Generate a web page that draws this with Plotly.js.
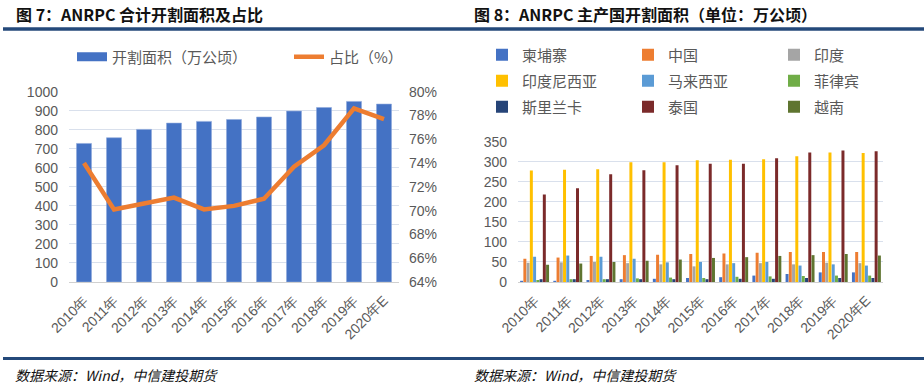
<!DOCTYPE html>
<html>
<head>
<meta charset="utf-8">
<script src="https://cdn.plot.ly/plotly-3.0.1.min.js"></script>
<style>html,body{margin:0;padding:0;background:#fff;}#chart{width:924px;height:387px;}</style>
</head>
<body>
<div id="chart"></div>
<script>
// ---- data ----
var years = ['2010年','2011年','2012年','2013年','2014年','2015年','2016年','2017年','2018年','2019年','2020年E'];
var totalArea = [728,758,802,835,844,854,867,898,917,949,935];
var sharePct = [74.0,70.1,70.6,71.1,70.1,70.4,71.0,73.7,75.5,78.6,77.7];

var countryNames = ['柬埔寨','中国','印度','印度尼西亚','马来西亚','菲律宾','斯里兰卡','泰国','越南'];
var cambodia    = [3,3,5,7,8,10,12,16,20,24,24];
var china       = [58,61,65,67,68,70,71,73,75,75,75];
var india       = [48,49,50,47,44,39,44,47,44,48,47];
var indonesia   = [278,280,281,299,299,304,305,306,314,323,322];
var malaysia    = [63,66,63,58,49,50,47,50,41,44,41];
var philippines = [5,7,7,9,11,10,13,14,15,16,16];
var sriLanka    = [7,7,7,7,7,7,8,8,10,10,10];
var thailand    = [218,234,269,279,291,295,295,309,323,328,326];
var vietnam     = [43,46,50,53,56,60,62,65,67,70,66];
var countrySeries = [cambodia,china,india,indonesia,malaysia,philippines,sriLanka,thailand,vietnam];

// ---- styles ----
var countryColors = ['#4472C4','#ED7D31','#A5A5A5','#FFC000','#5B9BD5','#70AD47','#264478','#7B2A2A','#5F7530'];
var legendRows = ['legend2','legend3','legend4'];
var W = 924, H = 387;
function px(x){return x/W;}
function py(y){return (H-y)/H;}
var tickFont = {family:'Liberation Sans, Arial, sans-serif', size:14, color:'#595959'};
var cjk = 'Noto Sans CJK SC, sans-serif';

var traces = [];
traces.push({type:'bar', x:years, y:totalArea, name:'开割面积（万公顷）', width:0.5,
  marker:{color:'#4472C4', line:{color:'#8EA9DB', width:0.6}},
  xaxis:'x', yaxis:'y', showlegend:false, hoverinfo:'x+y'});
// legend swatch for the bar series (wide rectangle style)
traces.push({type:'scatter', mode:'lines', x:[null], y:[null], name:'开割面积（万公顷）', line:{color:'#4472C4', width:9},
  xaxis:'x', yaxis:'y', legend:'legend'});
traces.push({type:'scatter', mode:'lines', x:years, y:sharePct, name:'占比（%）', line:{color:'#ED7D31', width:4.5},
  xaxis:'x', yaxis:'y2', legend:'legend'});

for (var i=0;i<countryNames.length;i++){
  traces.push({type:'bar', x:years, y:countrySeries[i], name:countryNames[i], marker:{color:countryColors[i]},
    xaxis:'x3', yaxis:'y3', legend:legendRows[Math.floor(i/3)]});
}

var gridColor = '#D9E0EC';
var legendBase = {orientation:'h', font:{family:cjk, size:15, color:'#595959'}, bgcolor:'rgba(0,0,0,0)',
  xanchor:'left', yanchor:'middle', entrywidth:101, entrywidthmode:'pixels'};
function mkLegend(y){var o=JSON.parse(JSON.stringify(legendBase)); o.x=px(482); o.y=py(y); return o;}

var layout = {
  width:W, height:H, margin:{l:0,r:0,t:0,b:0}, paper_bgcolor:'#fff', plot_bgcolor:'rgba(0,0,0,0)',
  barmode:'group', bargap:0.12, bargroupgap:0.08,
  showlegend:true,
  xaxis:{domain:[px(69),px(399)], anchor:'y', type:'category', tickangle:-45, tickfont:tickFont,
    showgrid:false, showline:true, linecolor:'#D0D0D0', linewidth:1, ticks:'', ticklabelstandoff:4, fixedrange:true},
  yaxis:{domain:[py(282),py(91.7)], anchor:'x', range:[0,1000], dtick:100, tickfont:tickFont, gridcolor:gridColor,
    zeroline:false, showline:false, ticks:'', ticklabelstandoff:10, fixedrange:true},
  yaxis2:{overlaying:'y', side:'right', anchor:'x', range:[64,80], dtick:2, ticksuffix:'%', tickfont:tickFont,
    showgrid:false, zeroline:false, showline:false, ticks:'', ticklabelstandoff:9, fixedrange:true},
  xaxis3:{domain:[px(518),px(883)], anchor:'y3', type:'category', tickangle:-45, tickfont:tickFont,
    showgrid:false, showline:true, linecolor:'#D0D0D0', linewidth:1, ticks:'', ticklabelstandoff:4, fixedrange:true},
  yaxis3:{domain:[py(282),py(141.7)], anchor:'x3', range:[0,350], dtick:50, tickfont:tickFont, gridcolor:gridColor,
    zeroline:false, showline:false, ticks:'', ticklabelstandoff:10, fixedrange:true},
  legend:{orientation:'h', font:{family:cjk, size:15, color:'#595959'}, bgcolor:'rgba(0,0,0,0)',
    x:px(72), y:py(57), xanchor:'left', yanchor:'middle', entrywidth:172, entrywidthmode:'pixels'},
  legend2:mkLegend(55), legend3:mkLegend(81), legend4:mkLegend(107),
  shapes:[
    {type:'line', xref:'paper', yref:'paper', x0:px(3), x1:px(924), y0:py(29), y1:py(29), line:{color:'#24497A', width:3.5}},
    {type:'line', xref:'paper', yref:'paper', x0:px(3), x1:px(924), y0:py(358.5), y1:py(358.5), line:{color:'#24497A', width:3}}
  ],
  annotations:[
    {xref:'paper', yref:'paper', x:px(14), y:py(14), xanchor:'left', yanchor:'middle', showarrow:false,
      text:'<b>图 7：ANRPC 合计开割面积及占比</b>', font:{family:cjk, size:16, color:'#111'}},
    {xref:'paper', yref:'paper', x:px(472), y:py(14), xanchor:'left', yanchor:'middle', showarrow:false,
      text:'<b>图 8：ANRPC 主产国开割面积（单位：万公顷）</b>', font:{family:cjk, size:16, color:'#111'}},
    {xref:'paper', yref:'paper', x:px(13), y:py(374.5), xanchor:'left', yanchor:'middle', showarrow:false,
      text:'<i>数据来源：Wind，中信建投期货</i>', font:{family:cjk, size:14, color:'#111'}},
    {xref:'paper', yref:'paper', x:px(472), y:py(374.5), xanchor:'left', yanchor:'middle', showarrow:false,
      text:'<i>数据来源：Wind，中信建投期货</i>', font:{family:cjk, size:14, color:'#111'}}
  ]
};

Plotly.newPlot('chart', traces, layout, {staticPlot:true, displayModeBar:false});
</script>
</body>
</html>
